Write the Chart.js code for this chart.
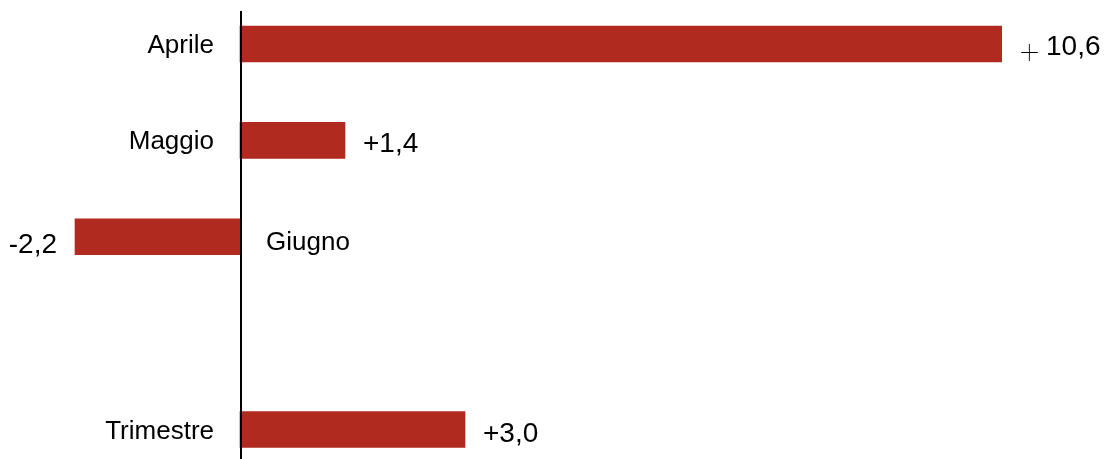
<!DOCTYPE html>
<html>
<head>
<meta charset="utf-8">
<script src="https://cdn.jsdelivr.net/npm/chart.js@4/dist/chart.umd.min.js"></script>
<style>
  body { margin: 0; background: #fff; }
  #wrap { width: 1110px; height: 459px; position: relative; }
</style>
</head>
<body>
<div id="wrap"><canvas id="myChart"></canvas></div>
<script>
// data
let categories = ['Aprile', 'Maggio', 'Giugno', '', 'Trimestre'];
let values = [10.6, 1.4, -2.2, null, 3.0];
let valueLabels = ['+ 10,6', '+1,4', '-2,2', '', '+3,0'];

let barColor = '#b12a20';
let catFont = '26px "Liberation Sans", Arial, sans-serif';
let valFont = '28px "Liberation Sans", Arial, sans-serif';
let thinPlusFont = '100 34px Roboto, "Noto Sans", sans-serif';

// zero line + category names + values
let labelPlugin = {
  id: 'barLabels',
  afterDatasetsDraw(chart) {
    let ctx = chart.ctx;
    let area = chart.chartArea;
    let x0 = chart.scales.x.getPixelForValue(0);
    ctx.save();

    ctx.strokeStyle = '#000';
    ctx.lineWidth = 2;
    ctx.beginPath();
    ctx.moveTo(x0 + 1, 11);
    ctx.lineTo(x0 + 1, chart.height);
    ctx.stroke();

    let meta = chart.getDatasetMeta(0);
    meta.data.forEach(function(bar, i) {
      let v = values[i];
      if (v === null) return;
      let y = bar.y;
      ctx.fillStyle = '#000';
      ctx.textBaseline = 'alphabetic';

      ctx.font = catFont;
      if (v >= 0) {
        ctx.textAlign = 'right';
        ctx.fillText(categories[i], x0 - 26, y + 9);
      } else {
        ctx.textAlign = 'left';
        ctx.fillText(categories[i], x0 + 26, y + 13);
      }

      let txt = valueLabels[i];
      if (v >= 0) {
        let xe = Math.min(bar.x, area.right) + 18;
        ctx.textAlign = 'left';
        if (txt.indexOf('+ ') === 0) {
          // the first label has a thin, spaced plus sign
          ctx.font = thinPlusFont;
          ctx.fillText('+', xe, y + 20);
          ctx.font = valFont;
          ctx.fillText(txt.slice(2), xe + 26, y + 11);
        } else {
          ctx.font = valFont;
          ctx.fillText(txt, xe, y + 12);
        }
      } else {
        ctx.font = valFont;
        ctx.textAlign = 'right';
        ctx.fillText(txt, bar.x - 18, y + 16);
      }
    });
    ctx.restore();
  }
};

let myChart1 = document.getElementById('myChart').getContext('2d');

let chart1 = new Chart(myChart1, {
  type: 'bar',
  data: {
    labels: categories,
    datasets: [{
      data: values,
      backgroundColor: barColor,
      borderWidth: 0,
      barThickness: 36,
      clip: { left: 0, right: 0, top: 30, bottom: 30 }
    }]
  },
  options: {
    indexAxis: 'y',
    responsive: true,
    maintainAspectRatio: false,
    animation: false,
    layout: {
      padding: { left: 0, right: 108, top: 44, bottom: 29.5 }
    },
    plugins: {
      legend: { display: false },
      tooltip: { enabled: false }
    },
    scales: {
      x: {
        display: false,
        min: -3.2,
        max: 10.16
      },
      y: {
        display: false,
        offset: false,
        grid: { offset: false }
      }
    }
  },
  plugins: [labelPlugin]
});
</script>
</body>
</html>
